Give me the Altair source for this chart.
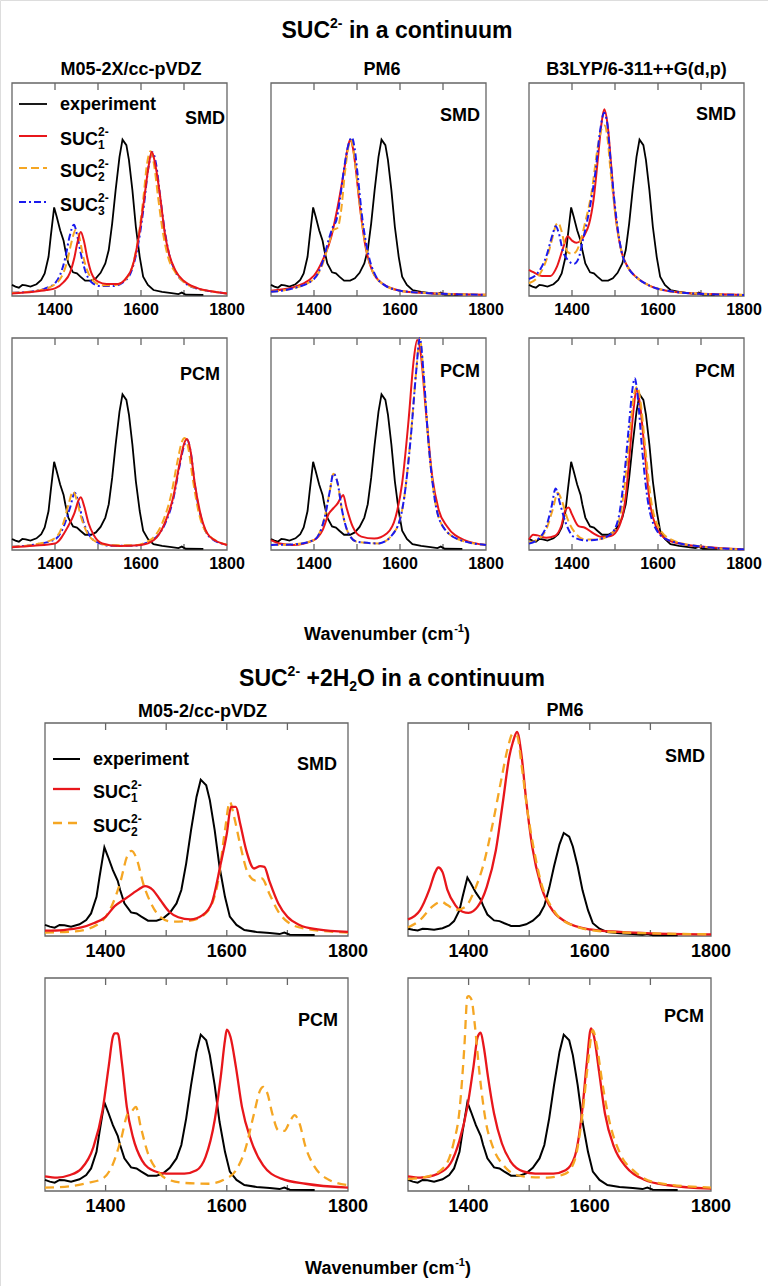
import altair as alt
import pandas as pd

# ---------------- data ----------------
X_DOMAIN = [1300, 1800]
TICKS = [1400, 1500, 1600, 1700]
TICK_LABELS = [1400, 1600, 1800]

# experiment (same measured spectrum in every panel)
EXP_X = [1300, 1308, 1316, 1324, 1332, 1343, 1357, 1368, 1376, 1385, 1390, 1398, 1404, 1412, 1420, 1424,
         1431, 1442, 1451, 1459, 1470, 1484, 1495, 1506, 1517, 1525, 1533, 1541, 1550, 1557, 1566, 1572,
         1580, 1588, 1597, 1605, 1616, 1629, 1649, 1671, 1687, 1695, 1704, 1745]
EXP_Y = [0.052, 0.044, 0.039, 0.052, 0.05, 0.044, 0.055, 0.075, 0.106, 0.184, 0.278, 0.416, 0.372, 0.309,
         0.259, 0.216, 0.153, 0.111, 0.106, 0.091, 0.072, 0.072, 0.083, 0.109, 0.153, 0.216, 0.341, 0.497,
         0.653, 0.734, 0.708, 0.638, 0.497, 0.325, 0.184, 0.091, 0.052, 0.028, 0.019, 0.014, 0.009, 0.016,
         0.006, 0.005]

# --- SUC2- in a continuum, M05-2X SMD
A1_X = [1300, 1350, 1380, 1400, 1420, 1435, 1445, 1452, 1460, 1467, 1475, 1485, 1500, 1520, 1545, 1565, 1580,
        1595, 1607, 1617, 1625, 1633, 1645, 1655, 1665, 1680, 1700, 1730, 1770, 1800]
A1_Y = [0.012, 0.02, 0.028, 0.036, 0.065, 0.11, 0.18, 0.25, 0.30, 0.26, 0.18, 0.106, 0.067, 0.056, 0.056,
        0.083, 0.137, 0.28, 0.45, 0.60, 0.677, 0.62, 0.46, 0.30, 0.20, 0.12, 0.07, 0.038, 0.02, 0.012]
A2_X = [1300, 1350, 1380, 1400, 1415, 1428, 1438, 1448, 1456, 1465, 1475, 1490, 1510, 1540, 1565, 1580, 1595,
        1605, 1614, 1622, 1630, 1640, 1650, 1662, 1680, 1700, 1730, 1770, 1800]
A2_Y = [0.015, 0.022, 0.035, 0.055, 0.09, 0.16, 0.25, 0.31, 0.28, 0.19, 0.12, 0.07, 0.05, 0.052, 0.08, 0.14,
        0.29, 0.45, 0.62, 0.68, 0.62, 0.46, 0.31, 0.19, 0.11, 0.065, 0.035, 0.02, 0.012]
A3_X = [1300, 1350, 1380, 1400, 1412, 1424, 1434, 1444, 1452, 1460, 1470, 1485, 1505, 1535, 1565, 1580, 1595,
        1607, 1617, 1627, 1635, 1645, 1655, 1665, 1680, 1700, 1730, 1770, 1800]
A3_Y = [0.015, 0.022, 0.038, 0.06, 0.1, 0.18, 0.28, 0.335, 0.28, 0.2, 0.12, 0.065, 0.047, 0.047, 0.075, 0.13,
        0.26, 0.43, 0.60, 0.675, 0.62, 0.46, 0.31, 0.2, 0.115, 0.065, 0.035, 0.02, 0.012]

# --- PM6 SMD
B1_X = [1300, 1350, 1400, 1420, 1440, 1455, 1470, 1478, 1484, 1490, 1497, 1505, 1520, 1535, 1560, 1600, 1650,
        1700, 1800]
B1_Y = [0.025, 0.04, 0.096, 0.167, 0.277, 0.418, 0.59, 0.69, 0.733, 0.70, 0.60, 0.45, 0.23, 0.12, 0.057,
        0.025, 0.015, 0.01, 0.006]
B2_X = [1300, 1350, 1400, 1420, 1435, 1445, 1455, 1463, 1472, 1480, 1486, 1492, 1500, 1510, 1525, 1540, 1565,
        1600, 1650, 1700, 1800]
B2_Y = [0.02, 0.035, 0.08, 0.15, 0.25, 0.31, 0.32, 0.40, 0.58, 0.70, 0.733, 0.68, 0.55, 0.37, 0.19, 0.1, 0.05,
        0.025, 0.015, 0.01, 0.006]
B3_X = [1300, 1350, 1400, 1420, 1435, 1445, 1452, 1460, 1470, 1480, 1488, 1494, 1502, 1512, 1527, 1542, 1565,
        1600, 1650, 1700, 1800]
B3_Y = [0.02, 0.035, 0.08, 0.16, 0.27, 0.33, 0.355, 0.45, 0.60, 0.71, 0.744, 0.70, 0.56, 0.37, 0.19, 0.1, 0.05,
        0.025, 0.015, 0.01, 0.006]

# --- B3LYP SMD
C1_X = [1300, 1310, 1330, 1350, 1365, 1380, 1390, 1400, 1410, 1420, 1430, 1440, 1450, 1460, 1468, 1475, 1483,
        1492, 1500, 1515, 1530, 1550, 1580, 1620, 1700, 1800]
C1_Y = [0.123, 0.112, 0.094, 0.094, 0.138, 0.23, 0.28, 0.26, 0.25, 0.26, 0.29, 0.34, 0.45, 0.64, 0.80, 0.877,
        0.80, 0.59, 0.40, 0.21, 0.135, 0.088, 0.049, 0.025, 0.01, 0.005]
C2_X = [1300, 1320, 1340, 1355, 1362, 1368, 1375, 1382, 1390, 1400, 1410, 1420, 1430, 1445, 1460, 1470, 1476,
        1482, 1490, 1500, 1515, 1530, 1550, 1580, 1620, 1700, 1800]
C2_Y = [0.06, 0.088, 0.167, 0.277, 0.33, 0.344, 0.31, 0.25, 0.206, 0.198, 0.21, 0.26, 0.34, 0.48, 0.70, 0.79,
        0.80, 0.75, 0.58, 0.40, 0.21, 0.135, 0.088, 0.049, 0.025, 0.01, 0.005]
C3_X = [1300, 1320, 1340, 1355, 1362, 1370, 1378, 1390, 1405, 1415, 1425, 1440, 1455, 1465, 1475, 1482, 1490,
        1500, 1515, 1530, 1550, 1580, 1620, 1700, 1800]
C3_Y = [0.08, 0.107, 0.185, 0.29, 0.327, 0.29, 0.217, 0.17, 0.151, 0.175, 0.26, 0.40, 0.59, 0.77, 0.86, 0.81,
        0.63, 0.42, 0.21, 0.135, 0.088, 0.049, 0.025, 0.01, 0.005]

# --- M05-2X PCM
D1_X = [1300, 1350, 1400, 1430, 1445, 1455, 1460, 1468, 1478, 1490, 1510, 1550, 1600, 1630, 1655, 1675, 1690,
        1700, 1707, 1715, 1725, 1740, 1760, 1800]
D1_Y = [0.0126, 0.02, 0.031, 0.11, 0.173, 0.236, 0.249, 0.205, 0.126, 0.071, 0.031, 0.019, 0.024, 0.047,
        0.126, 0.25, 0.41, 0.50, 0.523, 0.47, 0.315, 0.157, 0.063, 0.024]
D2_X = [1300, 1350, 1400, 1420, 1432, 1442, 1450, 1460, 1475, 1495, 1530, 1580, 1620, 1650, 1670, 1685, 1695,
        1702, 1710, 1720, 1735, 1755, 1800]
D2_Y = [0.015, 0.025, 0.055, 0.13, 0.22, 0.276, 0.24, 0.16, 0.08, 0.04, 0.022, 0.022, 0.045, 0.13, 0.26, 0.42,
        0.51, 0.528, 0.48, 0.34, 0.17, 0.075, 0.025]
D3_X = [1300, 1350, 1400, 1420, 1435, 1446, 1455, 1465, 1480, 1500, 1530, 1580, 1620, 1655, 1675, 1690, 1700,
        1707, 1715, 1725, 1740, 1760, 1800]
D3_Y = [0.015, 0.025, 0.05, 0.11, 0.2, 0.27, 0.22, 0.14, 0.07, 0.035, 0.02, 0.02, 0.04, 0.12, 0.24, 0.40, 0.49,
        0.52, 0.47, 0.31, 0.15, 0.06, 0.024]

# --- PM6 PCM
E1_X = [1300, 1320, 1350, 1400, 1420, 1435, 1445, 1455, 1462, 1468, 1475, 1490, 1510, 1540, 1570, 1590, 1605,
        1620, 1632, 1640, 1648, 1660, 1675, 1690, 1710, 1750, 1800]
E1_Y = [0.047, 0.031, 0.024, 0.047, 0.094, 0.173, 0.197, 0.22, 0.245, 0.26, 0.205, 0.11, 0.063, 0.054, 0.079,
        0.157, 0.315, 0.614, 0.898, 0.99, 0.93, 0.66, 0.346, 0.189, 0.11, 0.047, 0.024]
E2_X = [1300, 1350, 1400, 1425, 1437, 1445, 1455, 1465, 1480, 1500, 1550, 1590, 1610, 1625, 1638, 1646, 1655,
        1665, 1680, 1700, 1740, 1800]
E2_Y = [0.024, 0.026, 0.047, 0.157, 0.28, 0.36, 0.315, 0.189, 0.079, 0.039, 0.031, 0.094, 0.25, 0.535, 0.85,
        1.0, 0.82, 0.535, 0.25, 0.11, 0.047, 0.024]
E3_X = [1300, 1350, 1400, 1425, 1437, 1445, 1455, 1465, 1480, 1500, 1550, 1590, 1610, 1625, 1638, 1646, 1655,
        1665, 1680, 1700, 1740, 1800]
E3_Y = [0.024, 0.026, 0.047, 0.155, 0.28, 0.36, 0.315, 0.19, 0.079, 0.039, 0.031, 0.094, 0.25, 0.53, 0.85,
        1.0, 0.83, 0.54, 0.25, 0.11, 0.047, 0.024]

# --- B3LYP PCM
F1_X = [1300, 1310, 1320, 1340, 1360, 1375, 1385, 1392, 1400, 1415, 1430, 1450, 1470, 1490, 1510, 1525, 1535,
        1543, 1550, 1558, 1567, 1580, 1595, 1620, 1660, 1700, 1800]
F1_Y = [0.05, 0.072, 0.069, 0.058, 0.066, 0.113, 0.19, 0.20, 0.168, 0.113, 0.105, 0.078, 0.061, 0.066, 0.113,
        0.254, 0.474, 0.66, 0.757, 0.69, 0.51, 0.24, 0.113, 0.05, 0.027, 0.016, 0.003]
F2_X = [1300, 1320, 1340, 1355, 1367, 1375, 1390, 1410, 1430, 1460, 1490, 1510, 1525, 1535, 1545, 1552, 1560,
        1570, 1585, 1600, 1630, 1700, 1800]
F2_Y = [0.035, 0.05, 0.097, 0.19, 0.27, 0.24, 0.144, 0.074, 0.05, 0.05, 0.074, 0.144, 0.35, 0.57, 0.74, 0.77,
        0.69, 0.49, 0.22, 0.113, 0.05, 0.016, 0.003]
F3_X = [1300, 1320, 1340, 1352, 1362, 1372, 1385, 1405, 1430, 1460, 1490, 1508, 1522, 1533, 1540, 1546, 1553,
        1562, 1575, 1590, 1620, 1700, 1800]
F3_Y = [0.03, 0.05, 0.11, 0.2, 0.29, 0.22, 0.13, 0.06, 0.045, 0.05, 0.074, 0.15, 0.36, 0.6, 0.75, 0.81, 0.72,
        0.5, 0.25, 0.12, 0.05, 0.016, 0.003]

# --- SUC2- + 2H2O, M05-2 SMD
G1_X = [1300, 1330, 1360, 1380, 1400, 1415, 1430, 1445, 1455, 1465, 1478, 1490, 1505, 1520, 1540, 1560, 1575,
        1590, 1600, 1607, 1615, 1622, 1632, 1645, 1655, 1662, 1670, 1685, 1700, 1720, 1750, 1800]
G1_Y = [0.025, 0.028, 0.04, 0.06, 0.09, 0.14, 0.17, 0.20, 0.22, 0.234, 0.216, 0.17, 0.114, 0.088, 0.078, 0.098,
        0.153, 0.34, 0.48, 0.606, 0.606, 0.528, 0.403, 0.317, 0.328, 0.325, 0.26, 0.153, 0.09, 0.052, 0.031,
        0.019]
G2_X = [1300, 1350, 1390, 1410, 1425, 1435, 1443, 1452, 1462, 1475, 1490, 1510, 1540, 1565, 1585, 1597, 1605,
        1612, 1622, 1635, 1648, 1658, 1670, 1685, 1700, 1730, 1800]
G2_Y = [0.016, 0.022, 0.06, 0.14, 0.26, 0.37, 0.40, 0.356, 0.247, 0.153, 0.09, 0.067, 0.072, 0.106, 0.247,
        0.497, 0.63, 0.56, 0.43, 0.294, 0.26, 0.27, 0.2, 0.114, 0.067, 0.034, 0.016]

# --- PM6 SMD (this panel shows the experiment at a smaller relative height)
H1_X = [1300, 1320, 1335, 1345, 1350, 1357, 1365, 1378, 1390, 1400, 1415, 1430, 1445, 1457, 1467, 1473, 1480,
        1487, 1495, 1505, 1520, 1540, 1560, 1600, 1650, 1700, 1800]
H1_Y = [0.118, 0.185, 0.328, 0.455, 0.488, 0.455, 0.328, 0.22, 0.173, 0.165, 0.209, 0.35, 0.611, 0.967, 1.274,
        1.38, 1.453, 1.299, 0.967, 0.636, 0.35, 0.173, 0.102, 0.047, 0.029, 0.019, 0.012]
H2_X = [1300, 1320, 1340, 1355, 1365, 1380, 1395, 1410, 1425, 1440, 1455, 1465, 1473, 1480, 1488, 1497, 1508,
        1520, 1540, 1570, 1620, 1700, 1800]
H2_Y = [0.061, 0.114, 0.209, 0.244, 0.22, 0.185, 0.209, 0.328, 0.516, 0.804, 1.138, 1.346, 1.441, 1.426, 1.198,
        0.895, 0.611, 0.375, 0.185, 0.079, 0.033, 0.019, 0.012]

# --- M05-2 PCM
I1_X = [1300, 1320, 1340, 1360, 1380, 1395, 1405, 1412, 1415, 1420, 1427, 1435, 1445, 1460, 1480, 1500, 1530,
        1550, 1565, 1580, 1590, 1597, 1600, 1606, 1615, 1625, 1640, 1660, 1690, 1730, 1800]
I1_Y = [0.069, 0.063, 0.074, 0.105, 0.207, 0.379, 0.583, 0.724, 0.74, 0.74, 0.6, 0.395, 0.254, 0.144, 0.094,
        0.0815, 0.0815, 0.097, 0.16, 0.332, 0.536, 0.708, 0.758, 0.724, 0.583, 0.395, 0.238, 0.12, 0.058, 0.034,
        0.016]
I2_X = [1300, 1340, 1370, 1395, 1410, 1425, 1437, 1442, 1450, 1458, 1470, 1485, 1500, 1530, 1570, 1595, 1615,
        1630, 1645, 1655, 1660, 1667, 1675, 1685, 1695, 1705, 1712, 1720, 1730, 1745, 1765, 1800]
I2_Y = [0.016, 0.022, 0.038, 0.058, 0.113, 0.238, 0.364, 0.371, 0.395, 0.301, 0.176, 0.097, 0.058, 0.038, 0.034,
        0.053, 0.097, 0.191, 0.364, 0.473, 0.489, 0.458, 0.364, 0.285, 0.282, 0.332, 0.356, 0.317, 0.207, 0.113,
        0.058, 0.027]

# --- PM6 PCM
J1_X = [1300, 1320, 1350, 1370, 1385, 1398, 1408, 1415, 1420, 1425, 1432, 1442, 1455, 1470, 1490, 1510, 1540,
        1560, 1575, 1587, 1595, 1602, 1607, 1615, 1625, 1640, 1660, 1690, 1730, 1800]
J1_Y = [0.069, 0.063, 0.0815, 0.129, 0.238, 0.395, 0.583, 0.724, 0.743, 0.677, 0.536, 0.364, 0.223, 0.136,
        0.092, 0.0815, 0.0815, 0.097, 0.16, 0.364, 0.6, 0.763, 0.724, 0.567, 0.364, 0.207, 0.113, 0.053, 0.027,
        0.011]
J2_X = [1300, 1330, 1360, 1375, 1385, 1393, 1398, 1400, 1405, 1410, 1418, 1428, 1440, 1460, 1480, 1500, 1530,
        1560, 1575, 1588, 1597, 1605, 1612, 1620, 1632, 1650, 1675, 1710, 1800]
J2_Y = [0.056, 0.066, 0.113, 0.223, 0.379, 0.677, 0.912, 0.915, 0.897, 0.787, 0.552, 0.332, 0.207, 0.113, 0.074,
        0.066, 0.063, 0.0815, 0.144, 0.364, 0.6, 0.755, 0.677, 0.52, 0.332, 0.176, 0.089, 0.039, 0.016]

# ---------------- styles / layout ----------------
FONT = "Liberation Sans"
FRAME = "#666666"
BLACK, RED, ORANGE, BLUE = "#000000", "#e8161b", "#f5a623", "#1a1aee"

AW = {' ': .278, '(': .333, ')': .333, '+': .584, '-': .333, '/': .278, ',': .278,
      '0': .556, '1': .556, '2': .556, '3': .556, '4': .556, '5': .556, '6': .556,
      'B': .722, 'C': .722, 'D': .722, 'G': .778, 'H': .722, 'L': .611, 'M': .833, 'O': .778,
      'P': .667, 'S': .667, 'U': .722, 'V': .667, 'W': .944, 'X': .667, 'Y': .667, 'Z': .611,
      'a': .556, 'b': .611, 'c': .556, 'd': .611, 'e': .556, 'i': .278, 'm': .889, 'n': .611,
      'o': .611, 'p': .611, 'r': .389, 't': .333, 'u': .611, 'v': .556, 'x': .556}


def tw(s, size):
    return sum(AW.get(c, .556) for c in s) * size


def txt(s, x, y, size, align="left"):
    return alt.Chart(pd.DataFrame({"t": [s]})).mark_text(
        align=align, baseline="alphabetic", font=FONT, fontSize=size, fontWeight="bold", color="black"
    ).encode(x=alt.value(x), y=alt.value(y), text="t:N")


def rich(pieces, x, y, center=True):
    total = sum(tw(t, s) for t, s, dy, adv in pieces if adv)
    cx = x - total / 2 if center else x
    out = []
    for t, s, dy, adv in pieces:
        lead = len(t) - len(t.lstrip(" "))
        out.append(txt(t.strip(" "), cx + tw(" " * lead, s), y + dy, s))
        if adv:
            cx += tw(t, s)
    return out


def line_style(kind, big=False):
    w = 2.3 if big else 2.0
    if kind == "exp":
        return dict(color=BLACK, strokeWidth=2.0 if big else 1.8, interpolate="linear")
    if kind == "s1":
        return dict(color=RED, strokeWidth=w, interpolate="monotone")
    if kind == "s2":
        return dict(color=ORANGE, strokeWidth=w, interpolate="monotone",
                    strokeDash=[9, 6] if big else [8, 4])
    return dict(color=BLUE, strokeWidth=w, interpolate="monotone", strokeDash=[7, 3, 2, 3])


def panel(x0, x1, y0, y1, ymax, curves, big=False):
    xs = alt.Scale(domain=X_DOMAIN, range=[x0, x1], nice=False, zero=False)
    ys = alt.Scale(domain=[0, ymax], range=[y1, y0], nice=False, zero=False, clamp=True)
    X = lambda f: alt.X(f, scale=xs, axis=None)
    Y = lambda f: alt.Y(f, scale=ys, axis=None)
    layers = []
    frame = alt.Chart(pd.DataFrame({"a": [X_DOMAIN[0]], "b": [X_DOMAIN[1]], "c": [0], "d": [ymax]})).mark_rect(
        fillOpacity=0, stroke=FRAME, strokeWidth=1.3).encode(x=X("a:Q"), x2="b:Q", y=Y("c:Q"), y2="d:Q")
    layers.append(frame)
    tdf = pd.DataFrame({"v": TICKS, "top": [ymax] * len(TICKS), "bot": [0] * len(TICKS)})
    layers.append(alt.Chart(tdf).mark_rule(color=FRAME, strokeWidth=1.3, y2Offset=7).encode(
        x=X("v:Q"), y=Y("top:Q"), y2="top:Q"))
    layers.append(alt.Chart(tdf).mark_rule(color=FRAME, strokeWidth=1.3, y2Offset=-6).encode(
        x=X("v:Q"), y=Y("bot:Q"), y2="bot:Q"))
    ldf = pd.DataFrame({"v": TICK_LABELS, "bot": [0] * len(TICK_LABELS)})
    layers.append(alt.Chart(ldf).mark_text(
        font=FONT, fontWeight="bold", fontSize=18 if big else 16, baseline="middle",
        dy=16 if big else 14, color="black").encode(
        x=X("v:Q"), y=Y("bot:Q"), text=alt.Text("v:Q", format="d")))
    for kind, xv, yv in curves:
        st = line_style(kind, big)
        layers.append(alt.Chart(pd.DataFrame({"x": xv, "y": yv})).mark_line(**st).encode(
            x=X("x:Q"), y=Y("y:Q")))
    return alt.layer(*layers)


panels = [
    panel(12, 227, 83, 296, 1.0, [("exp", EXP_X, EXP_Y), ("s3", A3_X, A3_Y), ("s2", A2_X, A2_Y), ("s1", A1_X, A1_Y)]),
    panel(271, 486, 83, 296, 1.0, [("exp", EXP_X, EXP_Y), ("s1", B1_X, B1_Y), ("s2", B2_X, B2_Y), ("s3", B3_X, B3_Y)]),
    panel(529, 744, 83, 296, 1.0, [("exp", EXP_X, EXP_Y), ("s1", C1_X, C1_Y), ("s2", C2_X, C2_Y), ("s3", C3_X, C3_Y)]),
    panel(12, 227, 338, 550, 1.0, [("exp", EXP_X, EXP_Y), ("s3", D3_X, D3_Y), ("s2", D2_X, D2_Y), ("s1", D1_X, D1_Y)]),
    panel(271, 486, 338, 550, 1.0, [("exp", EXP_X, EXP_Y), ("s1", E1_X, E1_Y), ("s2", E2_X, E2_Y), ("s3", E3_X, E3_Y)]),
    panel(529, 744, 338, 550, 1.0, [("exp", EXP_X, EXP_Y), ("s1", F1_X, F1_Y), ("s2", F2_X, F2_Y), ("s3", F3_X, F3_Y)]),
    panel(45, 348, 723, 936, 1.0, [("exp", EXP_X, EXP_Y), ("s2", G2_X, G2_Y), ("s1", G1_X, G1_Y)], big=True),
    panel(408, 711, 723, 936, 1.517, [("exp", EXP_X, EXP_Y), ("s1", H1_X, H1_Y), ("s2", H2_X, H2_Y)], big=True),
    panel(45, 348, 978, 1191, 1.0, [("exp", EXP_X, EXP_Y), ("s1", I1_X, I1_Y), ("s2", I2_X, I2_Y)], big=True),
    panel(408, 711, 978, 1191, 1.0, [("exp", EXP_X, EXP_Y), ("s1", J1_X, J1_Y), ("s2", J2_X, J2_Y)], big=True),
]

texts = []
# main titles and axis titles
texts += rich([("SUC", 23, 0, True), ("2-", 14, -10, True), (" in a continuum", 23, 0, True)], 397, 38)
texts += rich([("Wavenumber (cm", 18, 0, True), ("-1", 11, -8, True), (")", 18, 0, True)], 387, 640)
texts += rich([("SUC", 23, 0, True), ("2-", 14, -10, True), (" +2H", 23, 0, True), ("2", 14, 5, True),
               ("O in a continuum", 23, 0, True)], 392, 686)
texts += rich([("Wavenumber (cm", 18, 0, True), ("-1", 11, -8, True), (")", 18, 0, True)], 388, 1274)

# panel titles
for s, cx, by in [("M05-2X/cc-pVDZ", 131, 75), ("PM6", 382, 75), ("B3LYP/6-311++G(d,p)", 636.5, 75),
                  ("M05-2/cc-pVDZ", 202.5, 717), ("PM6", 565, 716)]:
    texts.append(txt(s, cx, by, 18, align="center"))

# solvent model labels
for s, rx, by in [("SMD", 225, 124), ("SMD", 480, 121), ("SMD", 736, 120),
                  ("PCM", 220, 380), ("PCM", 480, 377), ("PCM", 735, 377),
                  ("SMD", 337, 770), ("SMD", 705, 762), ("PCM", 338, 1026), ("PCM", 704, 1022)]:
    texts.append(txt(s, rx, by, 18, align="right"))


# legends
def legend(lx0, lx1, tx, rows, big):
    out = []
    for kind, ly, sub in rows:
        st = line_style(kind, big)
        out.append(alt.Chart(pd.DataFrame({"k": [kind]})).mark_rule(
            color=st["color"], strokeWidth=st["strokeWidth"], **({"strokeDash": st["strokeDash"]} if "strokeDash" in st else {})
        ).encode(x=alt.value(lx0), x2=alt.value(lx1), y=alt.value(ly)))
        if sub is None:
            out.append(txt("experiment", tx, ly + 6, 18))
        else:
            base = ly + 9
            out += rich([("SUC", 18, 0, True), ("2-", 12, -9, False), (sub, 12, 4, True)], tx, base, center=False)
    return out


texts += legend(19, 47, 60, [("exp", 104, None), ("s1", 136, "1"), ("s2", 168, "2"), ("s3", 202, "3")], False)
texts += legend(53, 80, 93, [("exp", 759, None), ("s1", 789, "1"), ("s2", 823, "2")], True)

chart = alt.layer(*panels, *texts).resolve_scale(x="independent", y="independent").properties(
    width=768, height=1286, autosize=alt.AutoSizeParams(type="none"), padding=0
).configure_view(stroke=None).configure(background="white")

chart.save("out.html", embed_options={"renderer": "svg", "actions": False})
